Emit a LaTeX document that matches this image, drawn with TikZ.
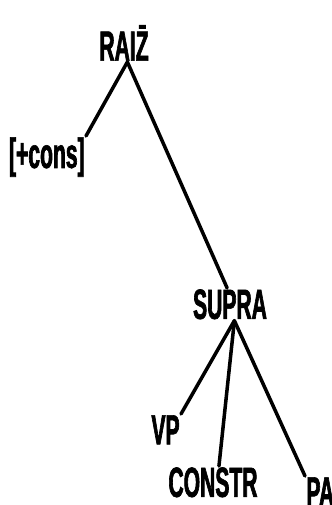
\documentclass[tikz,border=0pt]{standalone}
\usepackage{fontspec}
\newfontfamily\treefont[FakeStretch=0.5,FakeBold=1.5]{Liberation Sans Bold}
\usetikzlibrary{calc}

\begin{document}
\begin{tikzpicture}[x=0.03cm,y=-0.03cm,
  lbl/.style={inner sep=1pt,font=\treefont\fontsize{36}{40}\selectfont},
  branch/.style={line width=3pt,color=black,line cap=round}]
\useasboundingbox (0,0) rectangle (331,505);

% nodes
\node[lbl,anchor=south] (raiz) at (124,62) {RAI\={Z}};
\node[lbl,anchor=north east] (cons) at (86,136) {[+cons]};
\node[lbl,anchor=north] (supra) at (230,288) {SUPRA};
\node[lbl,anchor=north east] (vp) at (181,414) {VP};
\node[lbl,anchor=north] (constr) at (213,466) {CONSTR};
\node[lbl,anchor=north west] (pa) at (305,476) {PA};

% branches
\draw[branch] (raiz.-80) -- (cons.north east);
\draw[branch] (raiz.-80) -- (supra.100);
\draw[branch] (supra.-75) -- (vp.north east);
\draw[branch] (supra.-75) -- (constr.70);
\draw[branch] (supra.-75) -- (pa.north west);

\end{tikzpicture}
\end{document}
